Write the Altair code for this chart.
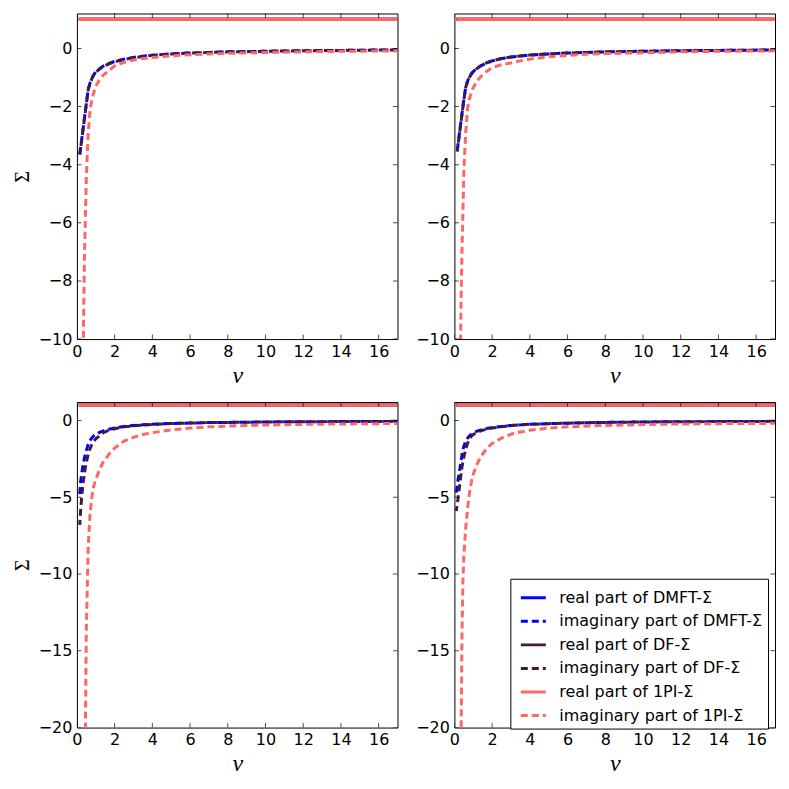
import altair as alt
import pandas as pd

# Matsubara frequency grid
nu = [0.1, 0.15, 0.2, 0.25, 0.3, 0.35, 0.4, 0.45, 0.5, 0.6, 0.7, 0.8, 0.9, 1.0,
      1.2, 1.4, 1.7, 2.0, 2.5, 3.0, 3.5, 4.0, 5.0, 6.0, 7.0, 8.0, 10.0, 12.0, 14.0, 17.0]
nu_real = [0.1, 17.0]

# real parts (all panels)
re_dmft = [1.0, 1.0]
re_df = [1.0, 1.0]
re_1pi = [1.0, 1.0]

# panel A (top-left)
im_dmft_a = [None, -3.63, -3.4, -3.15, -2.9, -2.65, -2.4, -2.15, -1.9, -1.4, -1.18, -1.02, -0.9, -0.81,
             -0.7, -0.61, -0.52, -0.45, -0.37, -0.31, -0.27, -0.24, -0.19, -0.16, -0.14, -0.12, -0.1, -0.08, -0.07, -0.05]
im_df_a = [None, -3.66, -3.42, -3.17, -2.92, -2.67, -2.42, -2.17, -1.92, -1.42, -1.2, -1.03, -0.91, -0.82,
           -0.71, -0.62, -0.53, -0.46, -0.38, -0.32, -0.28, -0.24, -0.19, -0.16, -0.14, -0.12, -0.1, -0.08, -0.07, -0.05]
im_1pi_a = [None, None, None, -16.0, -12.5, -9.5, -7.2, -5.8, -4.4, -2.9, -2.1, -1.75, -1.5, -1.3,
            -1.08, -0.92, -0.77, -0.6, -0.48, -0.4, -0.35, -0.31, -0.26, -0.22, -0.19, -0.17, -0.14, -0.12, -0.1, -0.085]

# panel B (top-right)
im_dmft_b = [None, -3.5, -3.25, -3.0, -2.75, -2.5, -2.25, -2.0, -1.75, -1.32, -1.12, -0.98, -0.87, -0.8,
             -0.68, -0.6, -0.5, -0.43, -0.35, -0.3, -0.26, -0.23, -0.19, -0.16, -0.14, -0.12, -0.1, -0.08, -0.07, -0.055]
im_df_b = [None, -3.55, -3.28, -3.03, -2.78, -2.53, -2.28, -2.03, -1.78, -1.34, -1.13, -0.99, -0.88, -0.8,
           -0.69, -0.6, -0.5, -0.43, -0.35, -0.3, -0.26, -0.23, -0.19, -0.16, -0.14, -0.12, -0.1, -0.08, -0.07, -0.055]
im_1pi_b = [None, None, None, -15.0, -11.5, -8.8, -7.0, -5.7, -4.2, -2.9, -2.05, -1.72, -1.5, -1.35,
            -1.12, -0.97, -0.8, -0.66, -0.56, -0.5, -0.43, -0.37, -0.29, -0.24, -0.2, -0.18, -0.15, -0.12, -0.1, -0.085]

# panel C (bottom-left)
im_dmft_c = [None, -4.8, -3.95, -3.5, -3.1, -2.75, -2.45, -2.2, -1.95, -1.55, -1.3, -1.12, -1.0, -0.92,
             -0.78, -0.68, -0.57, -0.49, -0.39, -0.33, -0.28, -0.25, -0.2, -0.17, -0.14, -0.13, -0.1, -0.085, -0.075, -0.06]
im_df_c = [None, -6.8, -5.8, -5.05, -4.4, -3.9, -3.45, -3.05, -2.72, -2.2, -1.82, -1.55, -1.35, -1.2,
           -1.0, -0.8, -0.64, -0.54, -0.42, -0.35, -0.3, -0.26, -0.2, -0.17, -0.14, -0.13, -0.1, -0.085, -0.075, -0.06]
im_1pi_c = [None, None, None, None, None, None, -28.0, -20.0, -13.5, -8.2, -6.0, -4.9, -4.25, -3.85,
            -3.2, -2.7, -2.2, -1.8, -1.35, -1.1, -0.92, -0.8, -0.62, -0.5, -0.42, -0.37, -0.3, -0.26, -0.23, -0.2]

# panel D (bottom-right)
im_dmft_d = [-4.7, -4.25, -3.8, -3.45, -3.05, -2.65, -2.25, -1.9, -1.7, -1.35, -1.15, -1.0, -0.9, -0.82,
             -0.7, -0.62, -0.53, -0.47, -0.39, -0.33, -0.29, -0.25, -0.21, -0.18, -0.15, -0.13, -0.1, -0.085, -0.075, -0.06]
im_df_d = [-5.9, -5.45, -5.0, -4.5, -4.0, -3.5, -3.05, -2.7, -2.4, -1.85, -1.48, -1.2, -1.02, -0.92,
           -0.78, -0.68, -0.57, -0.5, -0.41, -0.34, -0.29, -0.25, -0.21, -0.18, -0.15, -0.13, -0.1, -0.085, -0.075, -0.06]
im_1pi_d = [None, None, None, None, -30.0, -21.5, -14.0, -10.5, -8.8, -7.0, -5.7, -4.7, -4.0, -3.5,
            -2.85, -2.35, -1.85, -1.5, -1.15, -0.9, -0.75, -0.64, -0.5, -0.42, -0.37, -0.33, -0.27, -0.23, -0.21, -0.19]

labels = ["real part of DMFT-Σ", "imaginary part of DMFT-Σ",
          "real part of DF-Σ", "imaginary part of DF-Σ",
          "real part of 1PI-Σ", "imaginary part of 1PI-Σ"]
colors = ["#0000ff", "#0000ff", "#421a3c", "#421a3c", "#ff6666", "#ff6666"]
dashes = [[1, 0], [7, 4], [1, 0], [7, 4], [1, 0], [7, 4]]
dash_offsets = [0, 0, 0, 2, 0, 0]
widths = [3, 3, 3, 3, 3.6, 3]

x_ticks = [0, 2, 4, 6, 8, 10, 12, 14, 16]
y_ticks_top = [-10, -8, -6, -4, -2, 0]
y_ticks_bottom = [-20, -15, -10, -5, 0]

W, H = 321, 326
FONT = "DejaVu Sans"


def panel(ims, ydom, yticks, ytitle, show_legend):
    rows = []
    series = [(nu_real, re_dmft), (nu, ims[0]), (nu_real, re_df), (nu, ims[1]), (nu_real, re_1pi), (nu, ims[2])]
    for lab, (xs_, ys_) in zip(labels, series):
        for a, b in zip(xs_, ys_):
            if b is not None:
                rows.append({"series": lab, "nu": a, "val": b})
    df = pd.DataFrame(rows)

    xs = alt.Scale(domain=[0, 17], nice=False, zero=False)
    ys = alt.Scale(domain=ydom, nice=False, zero=False)
    xax = alt.Axis(values=x_ticks, title="ν", labelFlush=False)
    if ytitle:
        yax = alt.Axis(values=yticks, title="Σ")
    else:
        yax = alt.Axis(values=yticks, title=None)
    cs = alt.Scale(domain=labels, range=colors)
    ds = alt.Scale(domain=labels, range=dashes)
    if show_legend:
        leg = alt.Legend(title=None, orient="none", legendX=56, legendY=177,
                         strokeColor="black", fillColor="white", padding=5,
                         cornerRadius=0, labelFont=FONT, labelFontSize=16,
                         labelColor="black", symbolType="stroke", symbolSize=625,
                         symbolStrokeWidth=3, symbolOffset=4, labelOffset=12,
                         rowPadding=1.6, labelLimit=400)
    else:
        leg = None

    layers = []
    for lab, off, sw in zip(labels, dash_offsets, widths):
        layers.append(
            alt.Chart(df).transform_filter(alt.datum.series == lab)
            .mark_line(clip=True, strokeWidth=sw, strokeDashOffset=off)
            .encode(
                x=alt.X("nu:Q", scale=xs, axis=xax),
                y=alt.Y("val:Q", scale=ys, axis=yax),
                color=alt.Color("series:N", scale=cs, legend=leg),
                strokeDash=alt.StrokeDash("series:N", scale=ds, legend=leg),
            )
        )
    xt = pd.DataFrame({"t": x_ticks})
    yt = pd.DataFrame({"t": yticks})
    for yv in (0, H):
        layers.append(
            alt.Chart(xt).mark_tick(orient="vertical", size=9, thickness=1, color="black", clip=True)
            .encode(x=alt.X("t:Q", scale=xs, axis=xax), y=alt.value(yv))
        )
    for xv in (0, W):
        layers.append(
            alt.Chart(yt).mark_tick(orient="horizontal", size=9, thickness=1, color="black", clip=True)
            .encode(y=alt.Y("t:Q", scale=ys, axis=yax), x=alt.value(xv))
        )
    return alt.layer(*layers).properties(width=W, height=H)


pa = panel([im_dmft_a, im_df_a, im_1pi_a], [-10, 1.2], y_ticks_top, True, False)
pb = panel([im_dmft_b, im_df_b, im_1pi_b], [-10, 1.2], y_ticks_top, False, False)
pc = panel([im_dmft_c, im_df_c, im_1pi_c], [-20, 1.2], y_ticks_bottom, True, False)
pd_ = panel([im_dmft_d, im_df_d, im_1pi_d], [-20, 1.2], y_ticks_bottom, False, True)

row1 = alt.hconcat(pa, pb, spacing=16).resolve_scale(color="independent", strokeDash="independent").resolve_legend(color="independent", strokeDash="independent")
row2 = alt.hconcat(pc, pd_, spacing=16).resolve_scale(color="independent", strokeDash="independent").resolve_legend(color="independent", strokeDash="independent")

chart = (
    alt.vconcat(row1, row2, spacing=13)
    .resolve_scale(color="independent", strokeDash="independent")
    .resolve_legend(color="independent", strokeDash="independent")
    .properties(padding={"left": 3, "top": 4, "right": 5, "bottom": 5})
    .configure_view(stroke="black", strokeWidth=1)
    .configure_axis(domain=False, ticks=False, tickSize=0, grid=False,
                    labelFont=FONT, labelFontSize=16, labelColor="black",
                    titleColor="black", titleFontWeight="normal")
    .configure_axisX(labelPadding=4, titlePadding=4, titleFont="Liberation Serif",
                     titleFontStyle="italic", titleFontSize=24)
    .configure_axisY(labelPadding=5, titlePadding=6, titleFont="Liberation Serif",
                     titleFontSize=20)
)

chart.save("out.html", embed_options={"renderer": "svg", "actions": False})
